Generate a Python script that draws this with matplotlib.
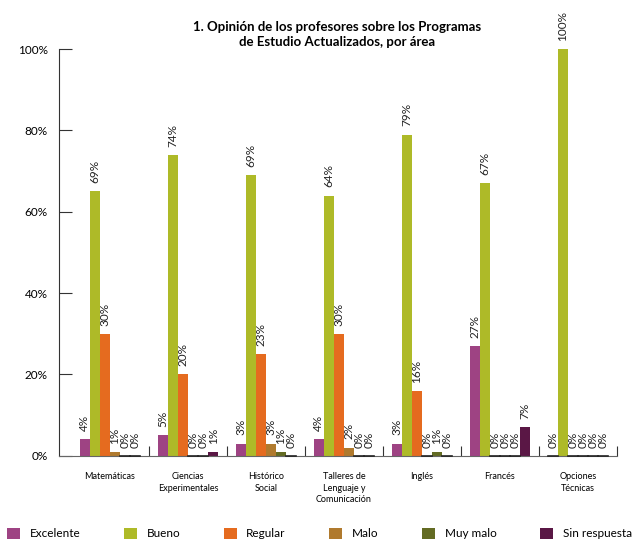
import numpy as np
import matplotlib.pyplot as plt

# Datos
areas = ['Matemáticas', 'Ciencias\nExperimentales', 'Histórico\nSocial',
         'Talleres de\nLenguaje y\nComunicación', 'Inglés', 'Francés',
         'Opciones\nTécnicas']
series = ['Excelente', 'Bueno', 'Regular', 'Malo', 'Muy malo', 'Sin respuesta']
colores = ['#9e4383', '#aeba28', '#e56b1f', '#b07a2e', '#636b23', '#5a1745']

# altura de las barras (tal como están dibujadas)
excelente = [4, 5, 3, 4, 3, 27, 0]
bueno = [65, 74, 69, 64, 79, 67, 100]
regular = [30, 20, 25, 30, 16, 0, 0]
malo = [1, 0, 3, 2, 0, 0, 0]
muy_malo = [0, 0, 1, 0, 1, 0, 0]
sin_resp = [0, 1, 0, 0, 0, 7, 0]

# etiquetas escritas sobre cada barra
etq_excelente = ['4%', '5%', '3%', '4%', '3%', '27%', '0%']
etq_bueno = ['69%', '74%', '69%', '64%', '79%', '67%', '100%']
etq_regular = ['30%', '20%', '23%', '30%', '16%', '0%', '0%']
etq_malo = ['1%', '0%', '3%', '2%', '0%', '0%', '0%']
etq_muy_malo = ['0%', '0%', '1%', '0%', '1%', '0%', '0%']
etq_sin_resp = ['0%', '1%', '0%', '0%', '0%', '7%', '0%']

valores = [excelente, bueno, regular, malo, muy_malo, sin_resp]
etiquetas = [etq_excelente, etq_bueno, etq_regular, etq_malo, etq_muy_malo, etq_sin_resp]

plt.rcParams['font.family'] = ['Lato', 'DejaVu Sans']

fig = plt.figure(figsize=(6.4, 5.4), dpi=100)
ax = fig.add_axes([0.092, 0.156, 0.872, 0.753])

x = np.arange(len(areas))
ancho = 0.129
for i, (vals, etqs) in enumerate(zip(valores, etiquetas)):
    pos = x + (i - 2.5) * ancho
    ax.bar(pos, vals, width=ancho, color=colores[i], label=series[i], linewidth=0)
    for p, v, t in zip(pos, vals, etqs):
        ax.text(p, v + 2.0, t, rotation=90, ha='center', va='bottom',
                fontsize=8.5, color='#222222', clip_on=False)
    # las barras en cero se ven como una raya oscura sobre el eje
    for p, v in zip(pos, vals):
        if v == 0:
            ax.plot([p - ancho / 2, p + ancho / 2], [0, 0], color='#222222',
                    lw=1.2, clip_on=False, zorder=5)

ax.set_xlim(-0.655, 6.5)
ax.set_ylim(0, 100)
ax.set_yticks([0, 20, 40, 60, 80, 100])
ax.set_yticklabels(['0%', '20%', '40%', '60%', '80%', '100%'], fontsize=8.5)
ax.tick_params(axis='y', direction='in', length=9, width=0.8, color='#333333', pad=8)

ax.set_xticks(x)
ax.set_xticklabels(areas, fontsize=6.5, linespacing=1.3, va='top')
ax.tick_params(axis='x', which='major', length=0, pad=12)
ax.set_xticks(x + 0.5, minor=True)
ax.tick_params(axis='x', which='minor', direction='in', length=7, width=0.8, color='#333333')

for s in ['top', 'right']:
    ax.spines[s].set_visible(False)
ax.spines['left'].set_color('#333333')
ax.spines['bottom'].set_color('#666666')

fig.text(0.527, 0.962, '1. Opinión de los profesores sobre los Programas\nde Estudio Actualizados, por área',
         ha='center', va='top', fontsize=9.5, fontweight='bold', linespacing=1.35)

fig.legend(loc='lower left', bbox_to_anchor=(0.0, -0.012), ncol=6, frameon=False,
           fontsize=8.5, handlelength=1.1, handleheight=1.1, columnspacing=3.7,
           handletextpad=0.8, borderaxespad=0.2)

fig.savefig('out.png', dpi=100)
